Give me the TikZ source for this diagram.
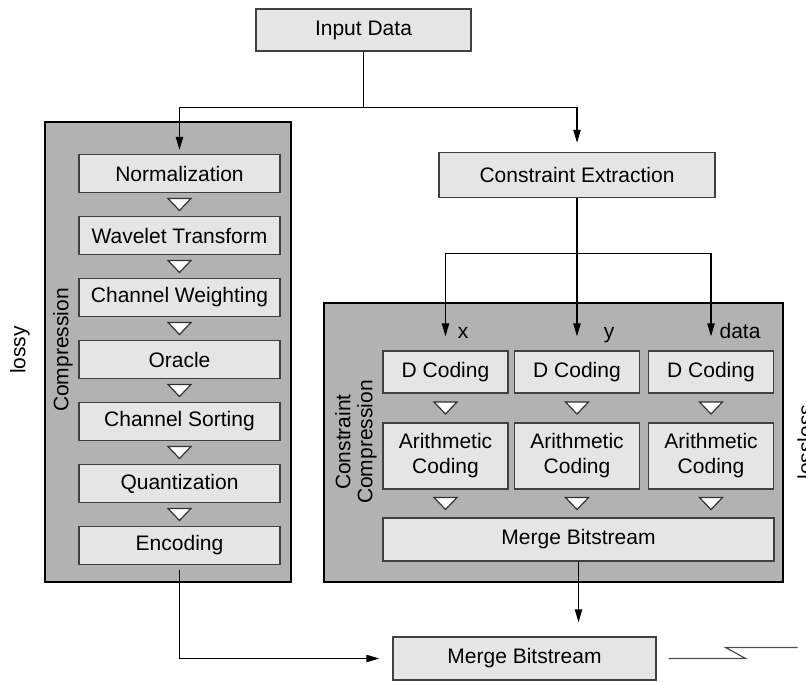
\documentclass[tikz,border=0pt]{standalone}
\usepackage{fontspec}
\setmainfont{Liberation Sans}
\usetikzlibrary{arrows.meta,calc}

\begin{document}
\begin{tikzpicture}[x=0.5pt,y=-0.5pt,font=\fontsize{10.5}{12.5}\selectfont,
  stage/.style={draw=black!75,fill=black!10,line width=0.6pt,inner sep=0pt,align=center},
  panel/.style={draw=black,fill=black!30,line width=1pt,inner sep=0pt},
  flow/.style={line width=0.75pt,-{Triangle[length=6.5pt,width=3.6pt]}},
  tri/.pic={\draw[fill=white,draw=black!80,line width=0.6pt] (-11.5,-6) -- (11.5,-6) -- (0,6) -- cycle;}]
\useasboundingbox (0,0) rectangle (806,681);

%Shape: panels
\node[panel,minimum width=123pt,minimum height=230pt] (lossy) at (168,352) {};
\node[panel,minimum width=229.5pt,minimum height=139.5pt] (cstr) at (553.5,442.5) {};

%Top boxes
\node[stage,minimum width=107.5pt,minimum height=21pt] (input) at (363.5,30) {Input Data};
\node[stage,minimum width=138pt,minimum height=22.5pt] (ext) at (577,175) {Constraint Extraction};

%Lossy chain
\foreach \n/\t [count=\i from 0] in {norm/Normalization,wav/Wavelet Transform,weight/Channel Weighting,oracle/Oracle,sort/Channel Sorting,quant/Quantization,enc/Encoding}
  \node[stage,minimum width=100.5pt,minimum height=19pt] (\n) at (179.5,173.5+62*\i) {\t};
\foreach \a/\b in {norm/wav,wav/weight,weight/oracle,oracle/sort,sort/quant,quant/enc}
  \path ($(\a.south)!.5!(\b.north)$) pic {tri};

%Lossless columns
\node[stage,minimum width=195.5pt,minimum height=21.5pt] (mergeA) at (578.5,539.5) {Merge Bitstream};
\foreach \c/\x in {1/445.5,2/577,3/711}{
  \node[stage,minimum width=62.5pt,minimum height=21pt] (dc\c) at (\x,372) {D Coding};
  \node[stage,minimum width=62.5pt,minimum height=33pt] (ac\c) at (\x,456) {Arithmetic\\Coding};
  \path ($(dc\c.south)!.5!(ac\c.north)$) pic {tri};
  \path ($(ac\c.south)!.5!(ac\c.south |- mergeA.north)$) pic {tri};
}

\node[stage,minimum width=131.5pt,minimum height=21.5pt] (mergeB) at (524.5,658.5) {Merge Bitstream};

% Text Node
\node[anchor=base] (lblx) at (463,338) {x};
\node[anchor=base] (lbly) at (609,338) {y};
\node[anchor=base] (lbldata) at (740,338) {data};
\node[rotate=90] (lossytxt) at (20,350) {lossy};
\node[rotate=90] (comptxt) at (63,350) {Compression};
\node[rotate=90,align=center] (cstrtxt) at (356,442) {Constraint\\[-1.5pt]Compression};
\node[rotate=90] (losslesstxt) at (805,442) {lossless};

%Straight Lines
\coordinate (split) at ($(input.south)+(0,56)$);
\draw[flow,shorten >=2pt] (input.south) -- (split) -| (norm.north);
\draw[flow,shorten >=4.5pt] (split) -| (ext.north);
\coordinate (fork) at ($(ext.south)+(0,55.5)$);
\draw[flow,shorten >=7pt] (ext.south) -- (ext.south |- dc2.north);
\draw[flow,shorten >=7pt] (fork) -| (dc1.north);
\draw[flow,shorten >=7pt] (fork) -| (dc3.north);
\draw[flow,shorten >=7pt] (mergeA.south) -- (mergeA.south |- mergeB.north);
\draw[flow,shorten <=2.5pt,shorten >=6.5pt] (enc.south) |- (mergeB.west);
\draw[black!70,line width=0.6pt] ([xshift=6pt]mergeB.east) -- ++(77,0) -- ++(-20,-11) -- ++(72,0);

\end{tikzpicture}
\end{document}
